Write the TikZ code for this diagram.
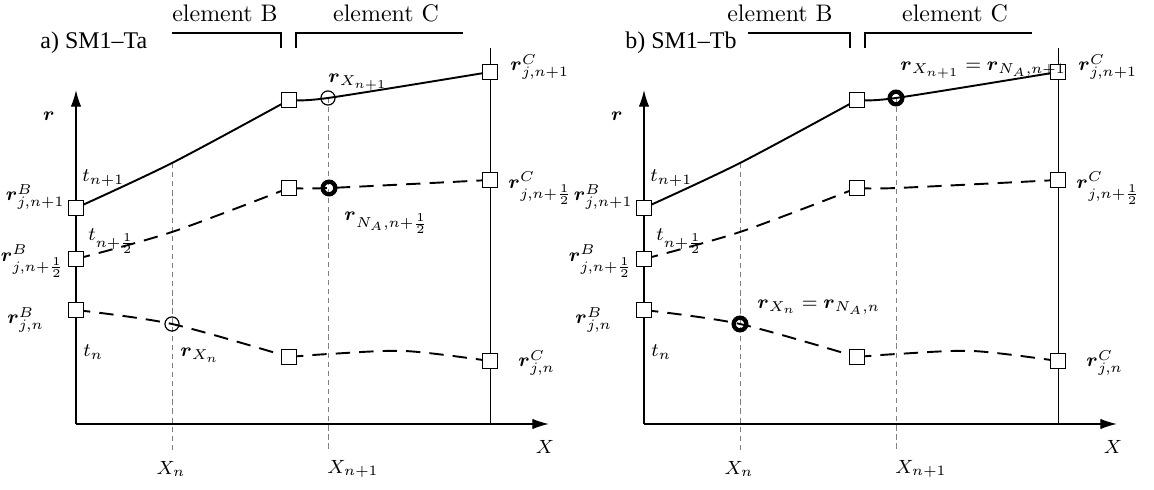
\documentclass[tikz,border=0pt]{standalone}
\usepackage{amsmath,amssymb}
\usepackage{fontspec}
\newfontfamily\timesfont{Liberation Serif}
\usetikzlibrary{arrows.meta}

\tikzset{
  sqbox/.style={draw,fill=white,inner sep=0pt,minimum size=6.2pt,line width=0.5pt},
  thincirc/.style={draw,circle,inner sep=0pt,minimum size=5.9pt,line width=0.5pt},
  thickcirc/.style={draw,circle,inner sep=0pt,minimum size=5.3pt,line width=1.8pt},
  lbl/.style={inner sep=0pt},
  mlbl/.style={inner sep=0pt,font=\footnotesize},
  solidcurve/.style={line width=0.8pt},
  dashcurve/.style={line width=0.8pt,dash pattern=on 6pt off 3.8pt},
  guide/.style={gray,line width=0.4pt,dash pattern=on 2.2pt off 1.6pt},
  axis/.style={line width=0.6pt,-{Latex[length=7pt,width=4.4pt]}},
  bracket/.style={line width=0.5pt}
}

\begin{document}
\begin{tikzpicture}[x=0.418pt,y=-0.418pt]
  \useasboundingbox (0,0) rectangle (1154,490);
  % panel a: SM1-Ta
  \begin{scope}
    \coordinate (a-o) at (76,424);
    \coordinate (a-rtip) at (76,90);
    \coordinate (a-xtip) at (549,424);
    \coordinate (a-ctop) at (490,48);
    \coordinate (a-cbot) at (490,424);
    \coordinate (a-b1) at (76,310);
    \coordinate (a-b2) at (76,259);
    \coordinate (a-b3) at (76,208);
    \coordinate (a-m1) at (289,357);
    \coordinate (a-m2) at (289,188);
    \coordinate (a-m3) at (289,100);
    \coordinate (a-c1) at (490,361);
    \coordinate (a-c2) at (490,180);
    \coordinate (a-c3) at (490,72);
    \coordinate (a-p1) at (172,324);
    \coordinate (a-p2) at (172,232);
    \coordinate (a-p3) at (172,163);
    \coordinate (a-s1) at (329,354);
    \coordinate (a-s2) at (329,188);
    \coordinate (a-s3) at (328,98);
    \coordinate (a-xnb) at (172,450);
    \coordinate (a-xmb) at (328,450);
    % element brackets
    \node[lbl,anchor=west,font=\timesfont] (a-title) at (40,43) {a) SM1–Ta};
    \node[lbl] (a-elb) at (225,13) {element B};
    \node[lbl] (a-elc) at (386,13) {element C};
    \draw[bracket] (172,33) -| (281,48);
    \draw[bracket] (296,48) |- (463,33);
    % guides and axes
    \draw[guide] (a-p3) -- (a-xnb);
    \draw[guide] (a-s3) -- (a-xmb);
    \draw[axis] (a-o) -- (a-rtip);
    \draw[axis] (a-o) -- (a-xtip);
    \draw[line width=0.4pt] (a-cbot) -- (a-ctop);
    % curves
    \draw[solidcurve] plot[smooth] coordinates {(a-b3) (a-p3) (a-m3)};
    \draw[solidcurve] plot[smooth] coordinates {(a-m3) (a-s3) (a-c3)};
    \draw[dashcurve] plot[smooth] coordinates {(a-b2) (a-p2) (a-m2)};
    \draw[dashcurve] plot[smooth] coordinates {(a-m2) (a-s2) (a-c2)};
    \draw[dashcurve] plot[smooth] coordinates {(a-b1) (a-p1) (a-m1)};
    \draw[dashcurve] plot[smooth] coordinates {(a-m1) (a-s1) (405,351) (a-c1)};
    % nodes
    \foreach \p in {b1,b2,b3,m1,m2,m3,c1,c2,c3}
      \node[sqbox] (a-box-\p) at (a-\p) {};
    \node[thincirc] (a-circ-p1) at (a-p1) {};
    \node[thincirc] (a-circ-s3) at (a-s3) {};
    \node[thickcirc] (a-circ-s2) at (a-s2) {};
    % labels
    \node[mlbl] (a-lr) at (49,116) {$\boldsymbol{r}$};
    \node[mlbl,anchor=east] (a-lb3) at (65,197) {$\boldsymbol{r}^B_{j,n+1}$};
    \node[mlbl,anchor=east] (a-lb2) at (65,261) {$\boldsymbol{r}^B_{j,n+\frac12}$};
    \node[mlbl,anchor=west] (a-lb1) at (7,320) {$\boldsymbol{r}^B_{j,n}$};
    \node[mlbl,anchor=west] (a-t3) at (82,178) {$t_{n+1}$};
    \node[mlbl,anchor=west] (a-t2) at (88,241) {$t_{n+\frac12}$};
    \node[mlbl,anchor=west] (a-t1) at (83,352) {$t_n$};
    \node[mlbl,anchor=west] (a-lc3) at (510,67) {$\boldsymbol{r}^C_{j,n+1}$};
    \node[mlbl,anchor=west] (a-lc2) at (508,188) {$\boldsymbol{r}^C_{j,n+\frac12}$};
    \node[mlbl,anchor=west] (a-lc1) at (518,363) {$\boldsymbol{r}^C_{j,n}$};
    \node[mlbl,anchor=west] (a-rxn) at (180,355) {$\boldsymbol{r}_{X_n}$};
    \node[mlbl,anchor=west] (a-rxm) at (328,82) {$\boldsymbol{r}_{X_{n+1}}$};
    \node[mlbl,anchor=west] (a-rna) at (344,223) {$\boldsymbol{r}_{N_A,n+\frac12}$};
    \node[mlbl] (a-xn) at (171,469) {$X_n$};
    \node[mlbl,anchor=west] (a-xm) at (327,469) {$X_{n+1}$};
    \node[mlbl] (a-x) at (545,447) {$X$};
  \end{scope}
  % panel b: SM1-Tb
  \begin{scope}[shift={(568,0)}]
    \coordinate (b-o) at (76,424);
    \coordinate (b-rtip) at (76,90);
    \coordinate (b-xtip) at (549,424);
    \coordinate (b-ctop) at (490,48);
    \coordinate (b-cbot) at (490,424);
    \coordinate (b-b1) at (76,310);
    \coordinate (b-b2) at (76,259);
    \coordinate (b-b3) at (76,208);
    \coordinate (b-m1) at (289,357);
    \coordinate (b-m2) at (289,188);
    \coordinate (b-m3) at (289,100);
    \coordinate (b-c1) at (490,361);
    \coordinate (b-c2) at (490,180);
    \coordinate (b-c3) at (490,72);
    \coordinate (b-p1) at (172,324);
    \coordinate (b-p2) at (172,232);
    \coordinate (b-p3) at (172,163);
    \coordinate (b-s1) at (329,354);
    \coordinate (b-s2) at (329,188);
    \coordinate (b-s3) at (328,98);
    \coordinate (b-xnb) at (172,450);
    \coordinate (b-xmb) at (328,450);
    % element brackets
    \node[lbl,anchor=west,font=\timesfont] (b-title) at (57,43) {b) SM1–Tb};
    \node[lbl] (b-elb) at (212,13) {element B};
    \node[lbl] (b-elc) at (387,13) {element C};
    \draw[bracket] (180,33) -| (282,48);
    \draw[bracket] (297,48) |- (464,33);
    % guides and axes
    \draw[guide] (b-p3) -- (b-xnb);
    \draw[guide] (b-s3) -- (b-xmb);
    \draw[axis] (b-o) -- (b-rtip);
    \draw[axis] (b-o) -- (b-xtip);
    \draw[line width=0.4pt] (b-cbot) -- (b-ctop);
    % curves
    \draw[solidcurve] plot[smooth] coordinates {(b-b3) (b-p3) (b-m3)};
    \draw[solidcurve] plot[smooth] coordinates {(b-m3) (b-s3) (b-c3)};
    \draw[dashcurve] plot[smooth] coordinates {(b-b2) (b-p2) (b-m2)};
    \draw[dashcurve] plot[smooth] coordinates {(b-m2) (b-s2) (b-c2)};
    \draw[dashcurve] plot[smooth] coordinates {(b-b1) (b-p1) (b-m1)};
    \draw[dashcurve] plot[smooth] coordinates {(b-m1) (b-s1) (405,351) (b-c1)};
    % nodes
    \foreach \p in {b1,b2,b3,m1,m2,m3,c1,c2,c3}
      \node[sqbox] (b-box-\p) at (b-\p) {};
    \node[thickcirc] (b-circ-p1) at (b-p1) {};
    \node[thickcirc] (b-circ-s3) at (b-s3) {};
    % labels
    \node[mlbl] (b-lr) at (49,116) {$\boldsymbol{r}$};
    \node[mlbl,anchor=east] (b-lb3) at (65,197) {$\boldsymbol{r}^B_{j,n+1}$};
    \node[mlbl,anchor=east] (b-lb2) at (65,261) {$\boldsymbol{r}^B_{j,n+\frac12}$};
    \node[mlbl,anchor=west] (b-lb1) at (7,320) {$\boldsymbol{r}^B_{j,n}$};
    \node[mlbl,anchor=west] (b-t3) at (82,178) {$t_{n+1}$};
    \node[mlbl,anchor=west] (b-t2) at (88,241) {$t_{n+\frac12}$};
    \node[mlbl,anchor=west] (b-t1) at (83,352) {$t_n$};
    \node[mlbl,anchor=west] (b-lc3) at (510,67) {$\boldsymbol{r}^C_{j,n+1}$};
    \node[mlbl,anchor=west] (b-lc2) at (508,188) {$\boldsymbol{r}^C_{j,n+\frac12}$};
    \node[mlbl,anchor=west] (b-lc1) at (518,363) {$\boldsymbol{r}^C_{j,n}$};
    \node[mlbl,anchor=west] (b-rxn) at (189,307) {$\boldsymbol{r}_{X_n}=\boldsymbol{r}_{N_A,n}$};
    \node[mlbl,anchor=west] (b-rxm) at (332,70) {$\boldsymbol{r}_{X_{n+1}}=\boldsymbol{r}_{N_A,n+1}$};
    \node[mlbl] (b-xn) at (171,469) {$X_n$};
    \node[mlbl,anchor=west] (b-xm) at (327,469) {$X_{n+1}$};
    \node[mlbl] (b-x) at (545,447) {$X$};
  \end{scope}
\end{tikzpicture}
\end{document}
